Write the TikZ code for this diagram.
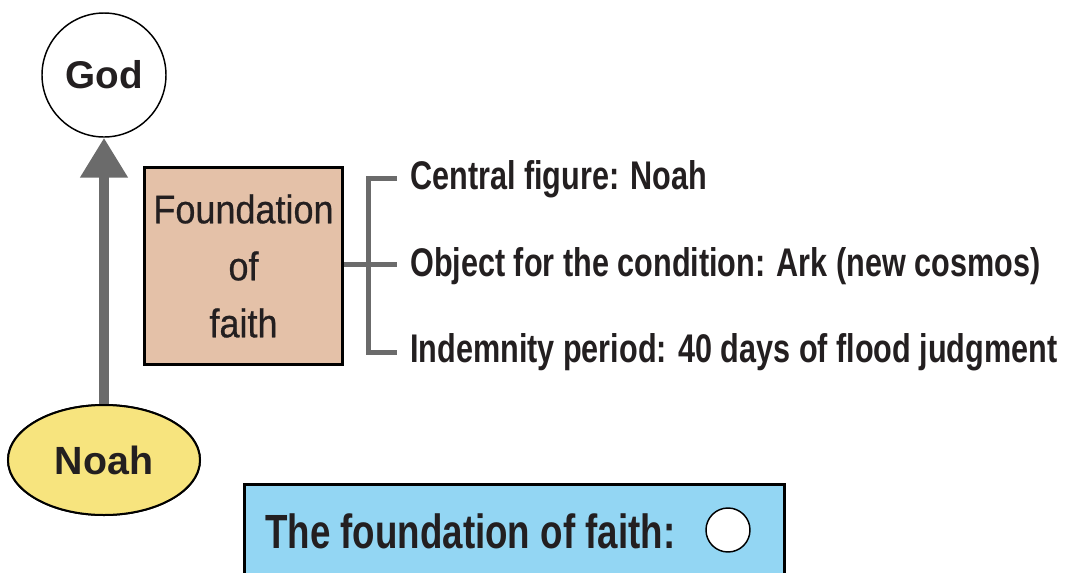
\documentclass[tikz,border=0pt]{standalone}
\usepackage{fontspec}
\setmainfont{Liberation Sans}
\newfontfamily\condfont{Liberation Sans}[FakeStretch=0.765]
\newfontfamily\boxfont{Liberation Sans}[FakeStretch=0.9,FakeBold=0.6]
\usetikzlibrary{arrows.meta,shapes.geometric}
\definecolor{ink}{HTML}{231F20}
\definecolor{tan}{HTML}{E4C1A8}
\definecolor{sky}{HTML}{93D6F3}
\definecolor{butter}{HTML}{F7E47E}
\definecolor{graylink}{HTML}{6B6B6B}
\tikzset{
  listtext/.style={anchor=west, inner sep=0pt, text=ink,
    font=\condfont\bfseries\fontsize{30pt}{36pt}\selectfont},
  bracket/.style={draw=graylink, line width=3.75pt},
  noahstyle/.style={ellipse, draw=black, line width=1.5pt, fill=butter, minimum width=144pt,
    minimum height=82.5pt, inner sep=0pt, text=ink, font=\bfseries\fontsize{29.5pt}{34pt}\selectfont},
}
\begin{document}
\begin{tikzpicture}[x=0.75pt,y=-0.75pt]
\useasboundingbox (0,0) rectangle (1065,572);
\clip (0,0) rectangle (1065,572);

% God and Noah
\node[circle, draw=black, line width=1.1pt, fill=white, minimum size=93pt, inner sep=0pt,
      text=ink, font=\bfseries\fontsize{29pt}{34pt}\selectfont] (god) at (104,75) {God};
\node[noahstyle] (noah) at (104,460) {Noah};
\draw[draw=graylink, line width=7.5pt, -{Triangle[length=30pt,width=34pt]}] (noah.north) -- (god.south);
\node[noahstyle] (noahtop) at (104,460) {Noah};

% Foundation box
\node[draw=black, line width=2.25pt, fill=tan, minimum width=149pt, minimum height=148pt,
      inner sep=0pt, align=center, text=ink,
      font=\boxfont\fontsize{30pt}{42.75pt}\selectfont] (found) at (243.5,266) {Foundation\\of\\faith};

% list
\node[listtext] (t1) at (410,179) {Central figure: Noah};
\node[listtext] (t2) at (410,266) {Object for the condition: Ark (new cosmos)};
\node[listtext] (t3) at (410,352) {Indemnity period: 40 days of flood judgment};

\coordinate (bt) at (368,178);
\coordinate (bb) at (368,352);
\coordinate (bm) at (368,264);
\draw[bracket] ([xshift=-13*0.75pt]t1.west |- bt) -- (bt) -- (bb) -- ([xshift=-13*0.75pt]t3.west |- bb);
\draw[bracket] (found.east |- bm) -- ([xshift=-13*0.75pt]t2.west |- bm);

% blue box
\node[draw=black, line width=2.25pt, fill=sky, minimum width=405pt, minimum height=90pt,
      inner sep=0pt, anchor=north west] (blue) at (243,483) {};
\node[anchor=west, inner sep=0pt, text=ink,
      font=\condfont\bfseries\fontsize{36pt}{40pt}\selectfont] (ftext) at (265,531) {The foundation of faith:};
\node[circle, draw=black, line width=1.1pt, fill=white, minimum size=33pt, inner sep=0pt] (dot) at (728,530) {};
\end{tikzpicture}
\end{document}
